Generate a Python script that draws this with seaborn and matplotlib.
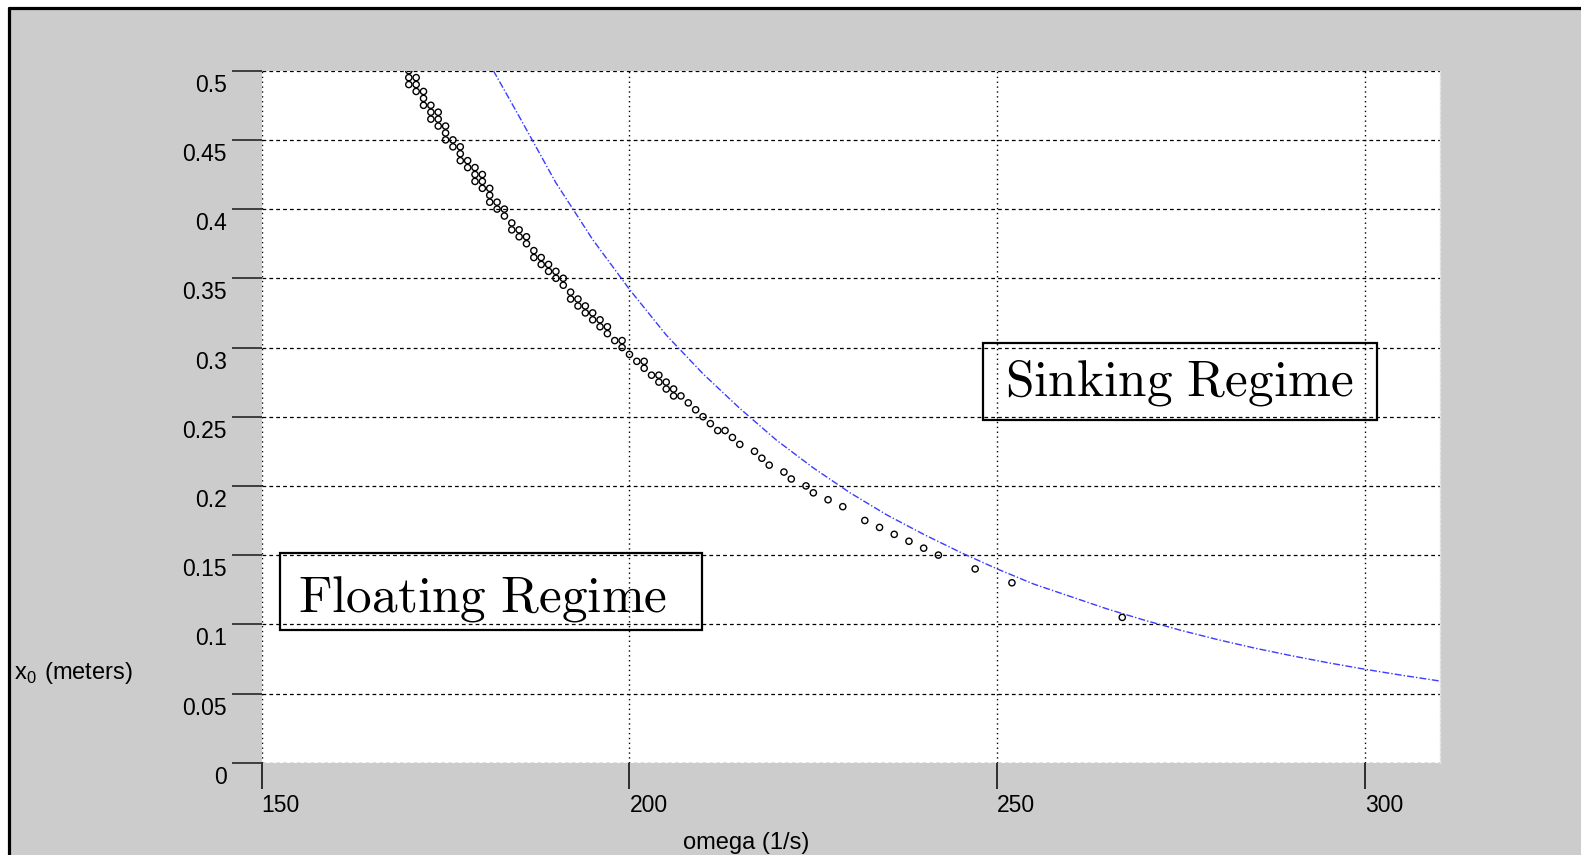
import seaborn as sns
import pandas as pd
import matplotlib
matplotlib.use("Agg")
import matplotlib.pyplot as plt
import matplotlib.transforms as mtransforms
from matplotlib.patches import Rectangle
from matplotlib.lines import Line2D

# numerical regime boundary (open circles)
omega_pts = [170, 170, 170, 171, 171, 171, 172, 172, 172, 173, 173, 173,
             174, 174, 174, 175, 175, 175, 176, 176, 177, 177, 177, 178, 178,
             179, 179, 179, 180, 180, 180, 181, 181, 181, 182, 182, 183, 183,
             184, 184, 185, 185, 186, 186, 187, 187, 188, 188, 189, 189,
             190, 190, 191, 191, 192, 192, 193, 193, 194, 194, 195, 195,
             196, 196, 197, 197, 198, 199, 199, 200, 201, 202, 202, 203,
             204, 204, 205, 205, 206, 206, 207, 208, 209, 210, 211, 212,
             213, 214, 215, 217, 218, 219, 221, 222, 224, 225, 227, 229,
             232, 234, 236, 238, 240, 242, 247, 252, 267]
x0_pts = [0.5, 0.495, 0.49, 0.495, 0.49, 0.485, 0.485, 0.48, 0.475,
          0.475, 0.47, 0.465, 0.47, 0.465, 0.46, 0.46, 0.455, 0.45,
          0.45, 0.445, 0.445, 0.44, 0.435, 0.435, 0.43, 0.43, 0.425, 0.42,
          0.425, 0.42, 0.415, 0.415, 0.41, 0.405, 0.405, 0.40, 0.40, 0.395,
          0.39, 0.385, 0.385, 0.38, 0.38, 0.375, 0.37, 0.365, 0.365, 0.36,
          0.36, 0.355, 0.355, 0.35, 0.35, 0.345, 0.34, 0.335, 0.335, 0.33,
          0.33, 0.325, 0.325, 0.32, 0.32, 0.315, 0.315, 0.31, 0.305,
          0.305, 0.30, 0.295, 0.29, 0.29, 0.285, 0.28, 0.28, 0.275,
          0.275, 0.27, 0.27, 0.265, 0.265, 0.26, 0.255, 0.25, 0.245, 0.24,
          0.24, 0.235, 0.23, 0.225, 0.22, 0.215, 0.21, 0.205, 0.20, 0.195,
          0.19, 0.185, 0.175, 0.17, 0.165, 0.16, 0.155, 0.15, 0.14, 0.13,
          0.105]

# analytic boundary (blue curve)
omega_curve = [181.5, 185, 190, 195, 200, 205, 210, 215, 220, 225, 230,
               235, 240, 245, 250, 255, 260, 265, 270, 275, 280, 285, 290,
               295, 300, 305, 310.2]
x0_curve = [0.500, 0.467, 0.419, 0.378, 0.342, 0.309, 0.281, 0.256, 0.233,
            0.213, 0.195, 0.179, 0.165, 0.152, 0.140, 0.129, 0.120, 0.111,
            0.103, 0.0956, 0.0889, 0.0828, 0.0773, 0.0722, 0.0675, 0.0632,
            0.0590]

x_ticks = [150, 200, 250, 300]
y_ticks = [0, 0.05, 0.1, 0.15, 0.2, 0.25, 0.3, 0.35, 0.4, 0.45, 0.5]
y_ticklabels = ["0", "0.05", "0.1", "0.15", "0.2", "0.25", "0.3", "0.35",
                "0.4", "0.45", "0.5"]

pts = pd.DataFrame({"omega": omega_pts, "x0": x0_pts})
curve = pd.DataFrame({"omega": omega_curve, "x0": x0_curve})

sns.set_theme(style="white")
plt.rcParams["font.family"] = ["Liberation Sans", "DejaVu Sans"]
plt.rcParams["mathtext.fontset"] = "cm"
plt.rcParams["text.color"] = "black"

W, H = 1581, 855
fig = plt.figure(figsize=(W / 100, H / 100), dpi=100, facecolor="white")

# grey panel with the black frame on left / top
fig.add_artist(Rectangle((10 / W, 0), 1, 1 - 9 / H, transform=fig.transFigure,
                         fc="#cccccc", ec="none", zorder=-10))
fig.add_artist(Line2D([8.5 / W, 8.5 / W], [0, 1 - 8 / H], color="black",
                      lw=2.3, transform=fig.transFigure))
fig.add_artist(Line2D([8.5 / W, 1], [1 - 8 / H, 1 - 8 / H], color="black",
                      lw=2.3, transform=fig.transFigure))

ax = fig.add_axes([261.7 / W, 1 - 762.7 / H, (1440 - 261.7) / W,
                   (762.7 - 70.7) / H])
ax.set_facecolor("white")

sns.lineplot(data=curve, x="omega", y="x0", ax=ax, color="#3c3cff", lw=1.0,
             linestyle=(0, (5, 1.5, 1, 1.5)), sort=False, estimator=None)
sns.scatterplot(data=pts, x="omega", y="x0", ax=ax, marker="o", s=20,
                fc="none", ec="black", linewidth=1.0, zorder=3)

ax.set_xlim(150, 310.2)
ax.set_ylim(0, 0.5)
ax.set_xticks(x_ticks)
ax.set_yticks(y_ticks)
ax.set_yticklabels(y_ticklabels)
ax.set_xlabel("")
ax.set_ylabel("")

ax.xaxis.grid(True, color="black", linestyle=(0, (1, 2.5)), linewidth=1.0)
ax.yaxis.grid(True, color="black", linestyle=(0, (3, 2.5)), linewidth=0.9)

for side in ["top", "bottom", "left"]:
    ax.spines[side].set_visible(False)
ax.spines["right"].set_color("#e4e4e4")
ax.spines["right"].set_linestyle((0, (2, 1.5)))
ax.spines["right"].set_linewidth(1.0)

ax.tick_params(axis="y", left=True, direction="out", length=21.6, width=1.3,
               color="#333333", pad=3.5, labelsize=16.5, labelcolor="black")
ax.tick_params(axis="x", bottom=True, direction="out", length=18.5, width=1.3,
               color="#222222", pad=4, labelsize=16.5, labelcolor="black")
plt.setp(ax.get_xticklabels(), ha="left")
shift = mtransforms.ScaledTranslation(0, -3 / 100, fig.dpi_scale_trans)
for lab in ax.get_yticklabels():
    lab.set_va("top")
    lab.set_transform(lab.get_transform() + shift)

# regime labels
ax.add_patch(Rectangle((248.0, 0.2476), 53.6, 0.0559, fill=False,
                       ec="black", lw=1.6, zorder=4))
ax.add_patch(Rectangle((152.5, 0.0959), 57.3, 0.0558, fill=False,
                       ec="black", lw=1.6, zorder=4))
ax.text(274.75, 0.2745, r"$\mathrm{Sinking\ Regime}$", fontsize=37,
        ha="center", va="center", color="black", zorder=5)
ax.text(180.06, 0.1185, r"$\mathrm{Floating\ Regime}$", fontsize=37,
        ha="center", va="center", color="black", zorder=5)

fig.text(746 / W, 1 - 843 / H, "omega (1/s)", fontsize=17, ha="center",
         va="center", color="black")
fig.text(14 / W, 1 - 672.5 / H, r"x$_\mathregular{0}$ (meters)", fontsize=17,
         ha="left", va="center", color="black")

fig.savefig("out.png", dpi=100, facecolor=fig.get_facecolor())
